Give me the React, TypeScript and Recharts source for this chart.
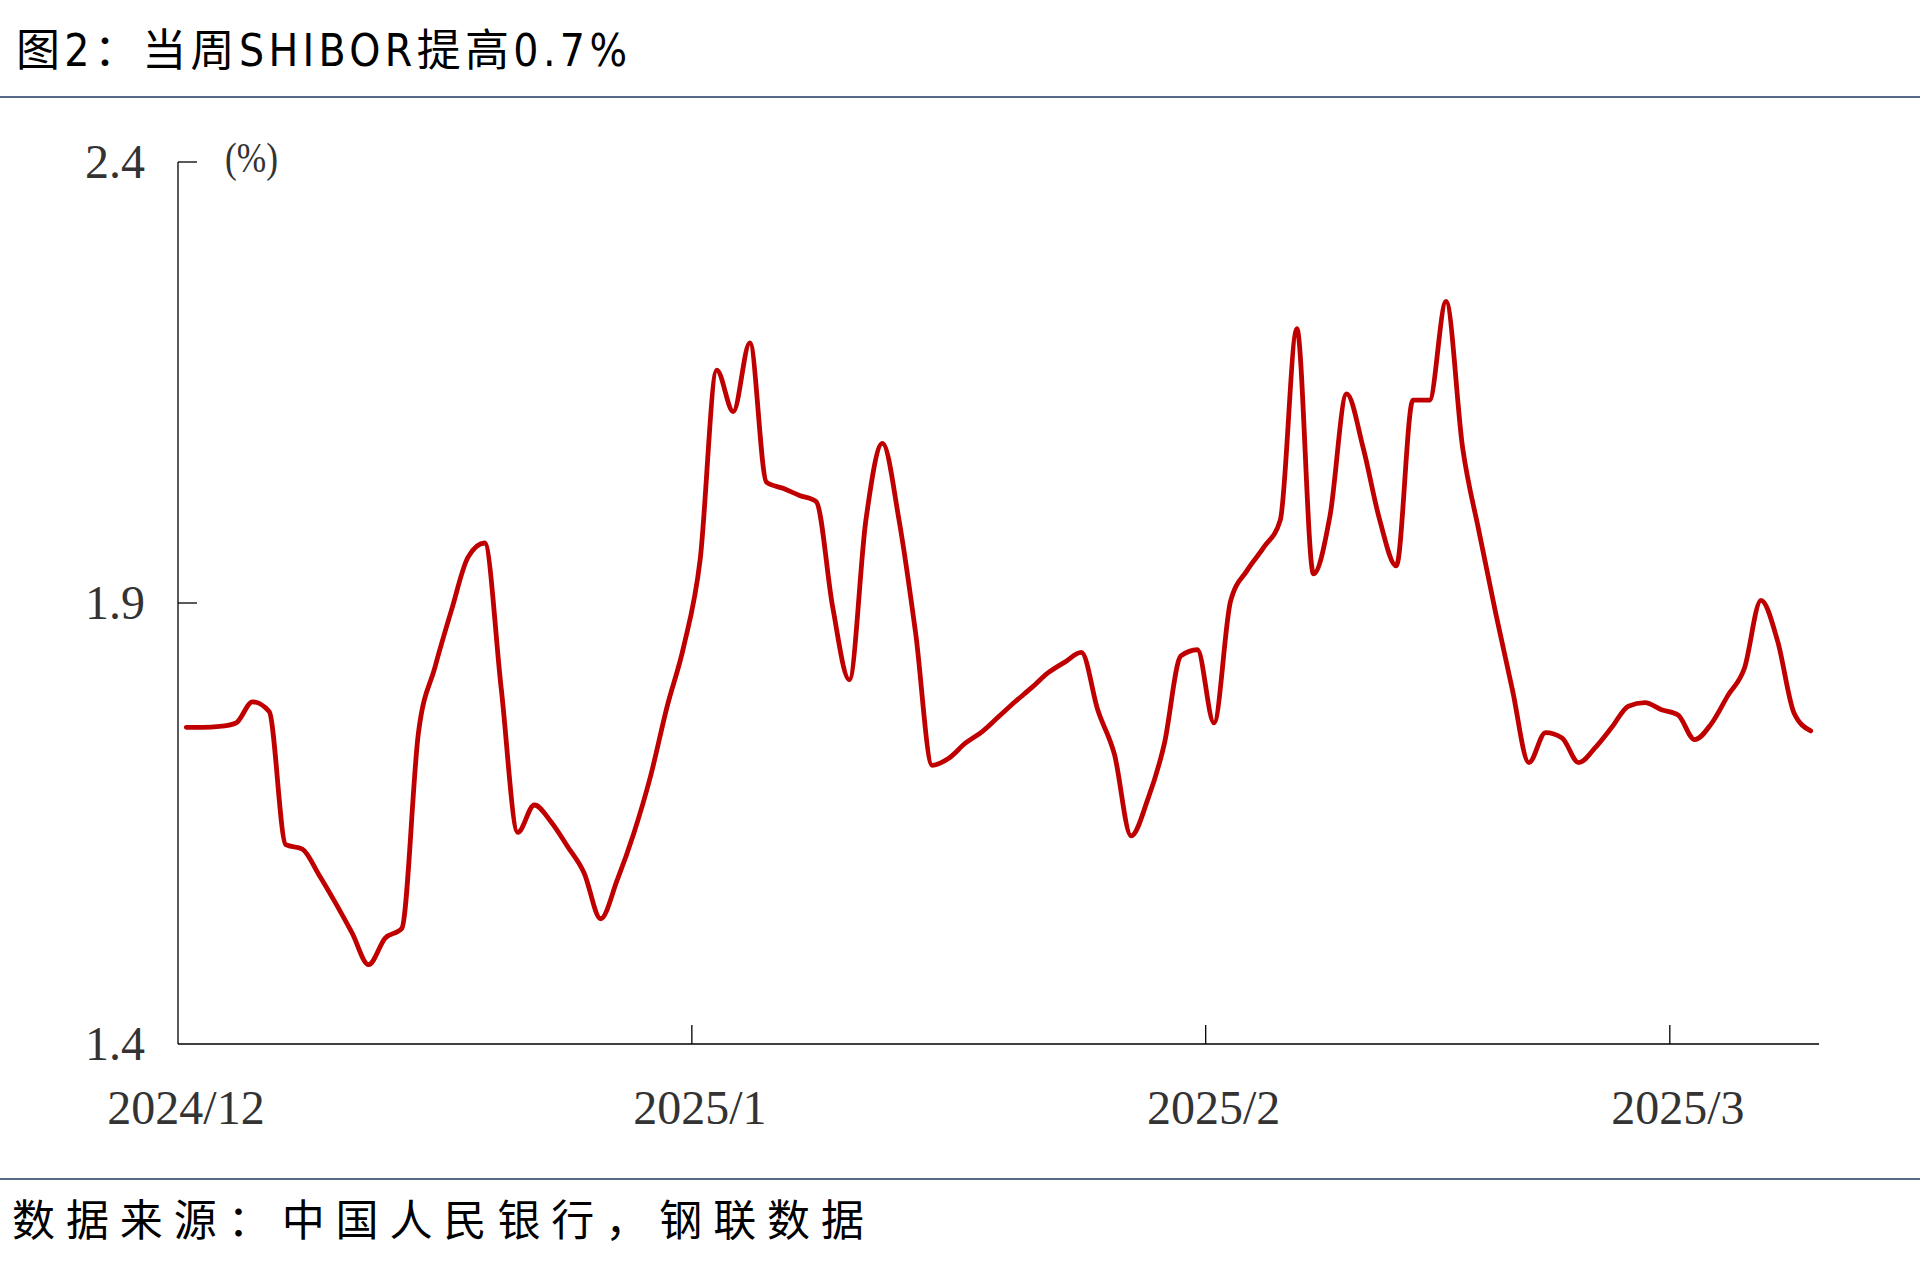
import React from 'react'
import { LineChart, Line, XAxis, YAxis } from 'recharts'

// daily values, one per calendar day from START_DATE
const START_DATE = '2024-12-01'
const SHIBOR = [
  1.759, 1.759, 1.76, 1.764, 1.788, 1.777, 1.626, 1.621, 1.592, 1.56,
  1.526, 1.49, 1.52, 1.531, 1.752, 1.827, 1.892, 1.952, 1.968, 1.803,
  1.64, 1.671, 1.652, 1.624, 1.594, 1.542, 1.586, 1.639, 1.703, 1.782,
  1.85, 1.949, 2.164, 2.117, 2.195, 2.037, 2.03, 2.022, 2.015, 1.895,
  1.813, 1.994, 2.081, 1.994, 1.866, 1.716, 1.724, 1.741, 1.754, 1.771,
  1.788, 1.804, 1.821, 1.833, 1.844, 1.778, 1.728, 1.636, 1.677, 1.74,
  1.84, 1.847, 1.764, 1.902, 1.937, 1.963, 1.994, 2.211, 1.933, 1.999,
  2.137, 2.076, 1.994, 1.942, 2.13, 2.13, 2.242, 2.076, 1.98, 1.888,
  1.802, 1.719, 1.753, 1.747, 1.719, 1.736, 1.759, 1.783, 1.787, 1.779,
  1.773, 1.745, 1.763, 1.795, 1.826, 1.903, 1.857, 1.775, 1.755,
]

// month starts, in days from START_DATE
const X_TICKS = [0, 31, 62, 90]
const X_TICK_LABELS = ['2024/12', '2025/1', '2025/2', '2025/3']
const Y_TICKS = [1.4, 1.9, 2.4]

const TITLE = '图2：当周SHIBOR提高0.7%'
const SOURCE = '数据来源：中国人民银行，钢联数据'
const UNIT = '(%)'

const DAY_MS = 86400000
const startMs = Date.parse(START_DATE + 'T00:00:00Z')

// points sit in the middle of their day, like an Excel date axis
const data = SHIBOR.map((rate, i) => {
  const d = new Date(startMs + i * DAY_MS)
  return {
    date: `${d.getUTCFullYear()}/${d.getUTCMonth() + 1}/${d.getUTCDate()}`,
    day: i + 0.5,
    rate,
  }
})

const SERIF = "'Liberation Serif', 'Times New Roman', serif"
const CJK = "'Noto Sans CJK SC', sans-serif"
const TITLE_FONT = "'Liberation Sans Narrow', 'DejaVu Sans Condensed', 'Noto Sans CJK SC', sans-serif"

function XTick(props: any) {
  const { x, y, payload } = props
  const idx = X_TICKS.indexOf(payload.value)
  return (
    <g>
      {payload.value > 0 && <line x1={x} x2={x} y1={y} y2={y - 19} stroke="#000" strokeWidth={1.3} />}
      <text x={x + 8} y={y + 80} textAnchor="middle" fontFamily={SERIF} fontSize={48} fill="#333">
        {X_TICK_LABELS[idx]}
      </text>
    </g>
  )
}

function YTick(props: any) {
  const { x, y, payload } = props
  return (
    <g>
      {payload.value > 1.4 && <line x1={x} x2={x + 19} y1={y} y2={y} stroke="#000" strokeWidth={1.3} />}
      <text x={x - 33} y={y + 16} textAnchor="end" fontFamily={SERIF} fontSize={48} fill="#333">
        {payload.value.toFixed(1)}
      </text>
    </g>
  )
}

export default function App() {
  return (
    <div style={{ position: 'absolute', left: 0, top: 0, width: 1920, height: 1279, background: '#fff' }}>
      <svg width={1920} height={1279} style={{ position: 'absolute', left: 0, top: 0 }}>
        <text x={16} y={66} fontFamily={TITLE_FONT} fontSize={44} fill="#000" textLength={611} lengthAdjust="spacing">
          {TITLE}
        </text>
        <line x1={0} x2={1920} y1={97} y2={97} stroke="#1f3a5f" strokeWidth={1.5} />
        <line x1={0} x2={1920} y1={1179} y2={1179} stroke="#1f3a5f" strokeWidth={1.5} />
        <text x={12} y={1236} fontFamily={CJK} fontSize={43} fill="#000" textLength={852} lengthAdjust="spacing">
          {SOURCE}
        </text>
        <text x={225} y={172} fontFamily={SERIF} fontSize={42} fill="#333" textLength={53} lengthAdjust="spacingAndGlyphs">
          {UNIT}
        </text>
      </svg>
      <div style={{ position: 'absolute', left: 0, top: 0 }}>
        <LineChart width={1920} height={1279} data={data} margin={{ top: 162, right: 101, left: 0, bottom: 0 }}>
          <XAxis
            dataKey="day"
            type="number"
            domain={[0, 99]}
            ticks={X_TICKS}
            interval={0}
            height={235}
            tickSize={0}
            tickMargin={0}
            tickLine={false}
            axisLine={{ stroke: '#000', strokeWidth: 1.3 }}
            tick={<XTick />}
          />
          <YAxis
            type="number"
            domain={[1.4, 2.4]}
            ticks={Y_TICKS}
            interval={0}
            width={178}
            tickSize={0}
            tickMargin={0}
            tickLine={false}
            axisLine={{ stroke: '#000', strokeWidth: 1.3 }}
            tick={<YTick />}
          />
          <Line
            dataKey="rate"
            type="monotone"
            stroke="#C00000"
            strokeWidth={4.8}
            strokeLinecap="round"
            strokeLinejoin="round"
            dot={false}
            activeDot={false}
            isAnimationActive={false}
          />
        </LineChart>
      </div>
    </div>
  )
}
